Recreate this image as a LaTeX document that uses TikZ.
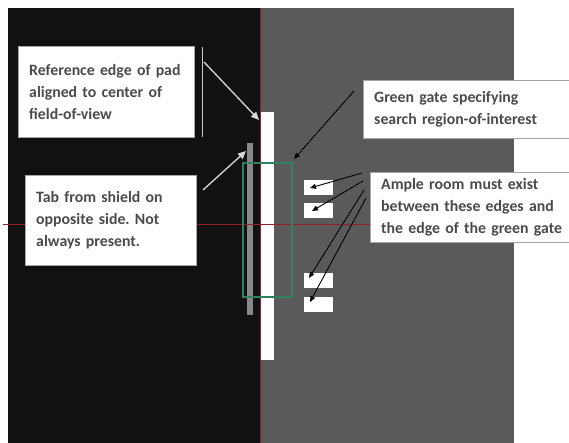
\documentclass[tikz,border=0pt]{standalone}
\usepackage{fontspec}
\setmainfont{Carlito}
\usetikzlibrary{arrows.meta}
\frenchspacing
\definecolor{bgblack}{RGB}{17,17,17}
\definecolor{bggray}{RGB}{90,90,90}
\definecolor{tabgray}{RGB}{135,135,135}
\definecolor{gategreen}{RGB}{50,128,95}
\definecolor{redline}{RGB}{150,30,42}
\definecolor{txtgray}{RGB}{75,75,75}
\tikzset{
  note/.style={draw=gray!70, fill=white, anchor=north west, align=left,
    inner xsep=11pt, inner ysep=0pt, text=txtgray,
    font=\bfseries\fontsize{15.8}{22}\selectfont},
  edgebox/.style={fill=white, minimum width=29pt, minimum height=15pt, inner sep=0pt},
  whitearrow/.style={draw=white!85!black, line width=1.3pt, -{Triangle[length=8pt,width=7pt]}},
  blackarrow/.style={draw=black, line width=0.9pt, -{Triangle[length=6pt,width=5pt]}},
}
\begin{document}
\begin{tikzpicture}[x=1pt,y=-1pt]
  \useasboundingbox (0,0) rectangle (569,443);
  \clip (0,0) rectangle (569,443);
  % field of view
  \fill[white] (0,0) rectangle (569,443);
  \fill[bgblack] (8,8) rectangle (260,443);
  \fill[bggray] (260,8) rectangle (514,443);
  \draw[redline, line width=1pt] (260,8) -- (260,443);
  % pad, tab and gate
  \fill[white] (261,112) rectangle (274,360);
  \fill[tabgray] (247,143) rectangle (253,315);
  \draw[redline, line width=1pt] (3,225) -- (514,225);
  \draw[gategreen, line width=1.1pt] (243,163) rectangle (292,297);
  \node[edgebox] (e1) at (318,188) {};
  \node[edgebox] (e2) at (318,211) {};
  \node[edgebox] (e3) at (318,280) {};
  \node[edgebox] (e4) at (318,304) {};
  % notes
  \node[note, minimum width=176pt, minimum height=91pt, text width=154pt] (refbox) at (18,46)
    {Reference edge of pad\\aligned to center of\\field-of-view};
  \node[note, minimum width=171pt, minimum height=90pt, text width=149pt] (tabbox) at (25,175)
    {Tab from shield on\\opposite side. Not\\always present.};
  \node[note, minimum width=215pt, minimum height=58pt, text width=193pt] (gatebox) at (363,80)
    {Green gate specifying\\search region-of-interest};
  \node[note, minimum width=210pt, minimum height=70pt, text width=188pt] (roombox) at (370,172)
    {Ample room must exist\\between these edges and\\the edge of the green gate};
  \draw[white!80!black, line width=1pt] (202,47) -- (202,137);
  % arrows
  \coordinate (refstart) at (204,62);
  \coordinate (pad) at (259,120);
  \coordinate (tabstart) at (203,190);
  \coordinate (tab) at (246,151);
  \coordinate (gatestart) at (354,91);
  \coordinate (gate) at (294,159);
  \draw[whitearrow] (refstart) -- (pad);
  \draw[whitearrow] (tabstart) -- (tab);
  \draw[blackarrow] (gatestart) -- (gate);
  \coordinate (r1) at (362,173);
  \coordinate (r2) at (363,181);
  \coordinate (r3) at (364,190);
  \coordinate (r4) at (366,198);
  \draw[blackarrow] (r1) -- ([xshift=-8pt]e1.center);
  \draw[blackarrow] (r2) -- ([xshift=-6pt]e2.center);
  \draw[blackarrow] (r3) -- ([xshift=-9pt,yshift=2pt]e3.center);
  \draw[blackarrow] (r4) -- ([xshift=-8pt,yshift=2pt]e4.center);
\end{tikzpicture}
\end{document}
